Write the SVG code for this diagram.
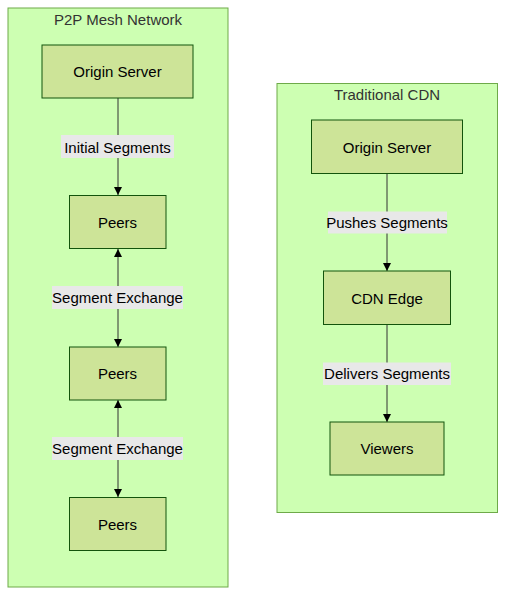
<svg xmlns="http://www.w3.org/2000/svg" width="513" height="604" viewBox="0 0 513 604">
<defs>
<style>
.cluster rect{fill:#cdffb2;stroke:#6eaa49;stroke-width:1}
.cluster text{fill:#333;font-family:"Liberation Sans",Arial,sans-serif;font-size:15px;text-anchor:middle}
.node rect{fill:#cde498;stroke:#13540c;stroke-width:1}
.node text{fill:#000;font-family:"Liberation Sans",Arial,sans-serif;font-size:15px;text-anchor:middle;dominant-baseline:central}
.edge{stroke:#333;stroke-width:1;fill:none}
.lbl rect{fill:#e8e8e8}
.lbl text{fill:#000;font-family:"Liberation Sans",Arial,sans-serif;font-size:15px;text-anchor:middle;dominant-baseline:central}
</style>
<marker id="arrEnd" viewBox="0 0 10 10" refX="10" refY="5" markerWidth="8" markerHeight="8" markerUnits="userSpaceOnUse" orient="auto">
<path d="M0,0 L10,5 L0,10 z" fill="#000"/>
</marker>
<marker id="arrStart" viewBox="0 0 10 10" refX="0" refY="5" markerWidth="8" markerHeight="8" markerUnits="userSpaceOnUse" orient="auto">
<path d="M10,0 L0,5 L10,10 z" fill="#000"/>
</marker>
</defs>
<g id="cluster-p2p" class="cluster">
<rect x="8" y="8" width="220" height="579"/>
<text x="118" y="25">P2P Mesh Network</text>
</g>
<g id="cluster-cdn" class="cluster">
<rect x="277" y="83.5" width="220.5" height="429"/>
<text x="387" y="100">Traditional CDN</text>
</g>
<g id="connectors">
<path class="edge" d="M118,98 L118,195" marker-end="url(#arrEnd)"/>
<path class="edge" d="M118,249 L118,347" marker-start="url(#arrStart)" marker-end="url(#arrEnd)"/>
<path class="edge" d="M118,400 L118,497" marker-start="url(#arrStart)" marker-end="url(#arrEnd)"/>
<path class="edge" d="M387,173.5 L387,271" marker-end="url(#arrEnd)"/>
<path class="edge" d="M387,324.5 L387,422" marker-end="url(#arrEnd)"/>
<g class="lbl"><rect x="61" y="135" width="113" height="23"/><text x="117.5" y="147">Initial Segments</text></g>
<g class="lbl"><rect x="52" y="286" width="131" height="23"/><text x="117.5" y="297.5">Segment Exchange</text></g>
<g class="lbl"><rect x="52" y="437" width="131" height="23"/><text x="117.5" y="448.5">Segment Exchange</text></g>
<g class="lbl"><rect x="328" y="211.5" width="119" height="22"/><text x="387" y="222.5">Pushes Segments</text></g>
<g class="lbl"><rect x="323" y="362.5" width="128" height="22.5"/><text x="387" y="373.5">Delivers Segments</text></g>
</g>
<g id="p2p-origin" class="node"><rect x="42" y="45" width="151" height="53"/><text x="117.5" y="71.5">Origin Server</text></g>
<g id="p2p-peers1" class="node"><rect x="69.5" y="195.5" width="96.5" height="53"/><text x="117.5" y="222">Peers</text></g>
<g id="p2p-peers2" class="node"><rect x="69.5" y="347" width="96.5" height="53"/><text x="117.5" y="373.5">Peers</text></g>
<g id="p2p-peers3" class="node"><rect x="69.5" y="497.5" width="96.5" height="53"/><text x="117.5" y="524">Peers</text></g>
<g id="cdn-origin" class="node"><rect x="311.5" y="120" width="151" height="53.5"/><text x="387" y="147">Origin Server</text></g>
<g id="cdn-edge" class="node"><rect x="323.5" y="271" width="127" height="53.5"/><text x="387" y="298">CDN Edge</text></g>
<g id="cdn-viewers" class="node"><rect x="330" y="422" width="114" height="53"/><text x="387" y="448.5">Viewers</text></g>
</svg>
